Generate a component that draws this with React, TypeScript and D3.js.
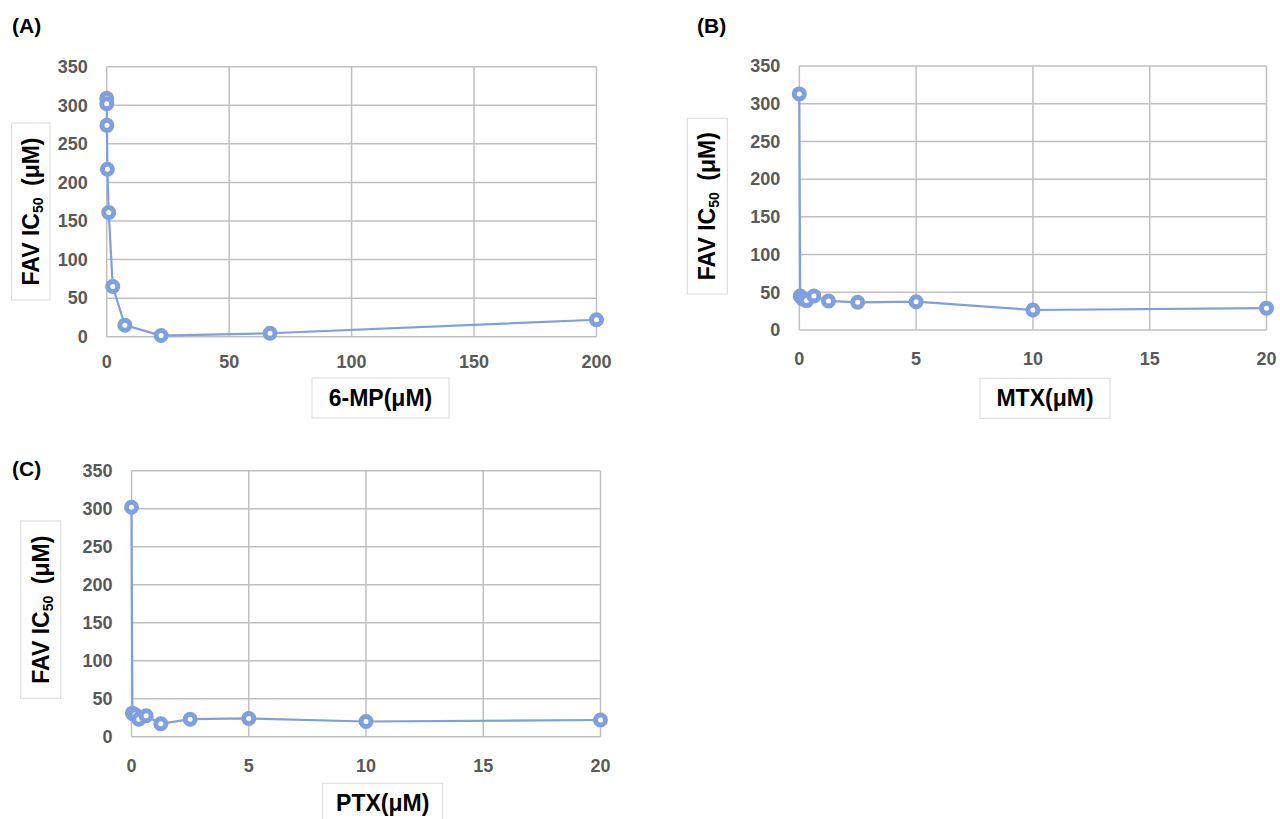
import React from "react";
import * as d3 from "d3";

// ---- Data ----
const mpDose = [0, 0.0305, 0.0914, 0.274, 0.823, 2.47, 7.41, 22.2, 66.7, 200];
const mpIC50 = [309, 302, 274, 217, 161, 65, 15, 1.5, 4.5, 22];

const mtxDose = [0, 0.039, 0.078, 0.156, 0.3125, 0.625, 1.25, 2.5, 5, 10, 20];
const mtxIC50 = [313, 45, 43, 41, 39, 45, 38.5, 36.7, 37.5, 26.5, 29];

const ptxDose = [0, 0.039, 0.078, 0.156, 0.3125, 0.625, 1.25, 2.5, 5, 10, 20];
const ptxIC50 = [302, 31, 30, 29, 23, 27.5, 17, 23, 24, 20, 22];

const yTicks = [0, 50, 100, 150, 200, 250, 300, 350];
const mpXTicks = [0, 50, 100, 150, 200];
const smallXTicks = [0, 5, 10, 15, 20];

const COLOR = "#7F9FDD";
const GRID = "#C0C0C0";
const TICKCOL = "#595959";
const FONT = "'Liberation Sans', Arial, sans-serif";

type PanelProps = {
  label: string;
  labelPos: [number, number];
  xs: number[];
  ys: number[];
  xDomain: [number, number];
  xTicks: number[];
  xRange: [number, number];
  yRange: [number, number];
  xLabelOffset: number;
  yTitleBox: [number, number, number, number];
  xTitleBox: [number, number, number, number];
  xTitle: string;
};

function Panel(p: PanelProps) {
  const x = d3.scaleLinear().domain(p.xDomain).range(p.xRange);
  const y = d3.scaleLinear().domain([0, 350]).range(p.yRange);
  const line = d3
    .line<number>()
    .x((_, i) => x(p.xs[i]))
    .y((d) => y(d));
  const [x0, x1] = p.xRange;
  const [y0, y1] = p.yRange;
  const [bx, by, bw, bh] = p.yTitleBox;
  const [tx, ty, tw, th] = p.xTitleBox;
  return (
    <g>
      <text
        x={p.labelPos[0]}
        y={p.labelPos[1]}
        fontFamily={FONT}
        fontSize={21}
        fontWeight="bold"
        fill="#000"
      >
        {p.label}
      </text>
      {yTicks.map((t) => (
        <line key={"h" + t} x1={x0} x2={x1} y1={y(t)} y2={y(t)} stroke={GRID} strokeWidth={1.5} />
      ))}
      {p.xTicks.map((t) => (
        <line key={"v" + t} x1={x(t)} x2={x(t)} y1={y0} y2={y1} stroke={GRID} strokeWidth={1.5} />
      ))}
      {yTicks.map((t) => (
        <text
          key={"yl" + t}
          x={x0 - 19}
          y={y(t)}
          dy="0.35em"
          textAnchor="end"
          fontFamily={FONT}
          fontSize={18}
          fontWeight="bold"
          fill={TICKCOL}
        >
          {t}
        </text>
      ))}
      {p.xTicks.map((t) => (
        <text
          key={"xl" + t}
          x={x(t)}
          y={y0 + p.xLabelOffset}
          dy="0.35em"
          textAnchor="middle"
          fontFamily={FONT}
          fontSize={18}
          fontWeight="bold"
          fill={TICKCOL}
        >
          {t}
        </text>
      ))}
      <path d={line(p.ys) || ""} fill="none" stroke={COLOR} strokeWidth={2.2} />
      {p.ys.map((v, i) => (
        <circle
          key={"c" + i}
          cx={x(p.xs[i])}
          cy={y(v)}
          r={5}
          fill="#fff"
          stroke={COLOR}
          strokeWidth={5}
        />
      ))}
      <rect x={bx} y={by} width={bw} height={bh} fill="#fff" stroke="#D9D9D9" strokeWidth={1} />
      <text
        transform={`translate(${bx + bw / 2 + 8},${by + bh / 2}) rotate(-90)`}
        textAnchor="middle"
        fontFamily={FONT}
        fontSize={23}
        fontWeight="bold"
        fill="#000"
      >
        FAV IC
        <tspan fontSize={14} dy={4}>50</tspan>
        <tspan dy={-4}>{"\u2002(μM)"}</tspan>
      </text>
      <rect x={tx} y={ty} width={tw} height={th} fill="#fff" stroke="#D9D9D9" strokeWidth={1} />
      <text
        x={tx + tw / 2}
        y={ty + th / 2 + 8}
        textAnchor="middle"
        fontFamily={FONT}
        fontSize={23}
        fontWeight="bold"
        fill="#000"
      >
        {p.xTitle}
      </text>
    </g>
  );
}

export default function App() {
  return (
    <svg
      width={1280}
      height={819}
      style={{ position: "absolute", left: 0, top: 0, background: "#fff" }}
    >
      <Panel
        label="(A)"
        labelPos={[12, 33]}
        xs={mpDose}
        ys={mpIC50}
        xDomain={[0, 200]}
        xTicks={mpXTicks}
        xRange={[106.7, 596.5]}
        yRange={[336.7, 66.7]}
        xLabelOffset={25}
        yTitleBox={[11.7, 123, 38.3, 177]}
        xTitleBox={[312, 378, 137, 40]}
        xTitle="6-MP(μM)"
      />
      <Panel
        label="(B)"
        labelPos={[697, 33]}
        xs={mtxDose}
        ys={mtxIC50}
        xDomain={[0, 20]}
        xTicks={smallXTicks}
        xRange={[799.3, 1266.5]}
        yRange={[330, 66]}
        xLabelOffset={28.5}
        yTitleBox={[687.3, 118.3, 40, 175.7]}
        xTitleBox={[980, 378.3, 130, 40]}
        xTitle="MTX(μM)"
      />
      <Panel
        label="(C)"
        labelPos={[12, 476]}
        xs={ptxDose}
        ys={ptxIC50}
        xDomain={[0, 20]}
        xTicks={smallXTicks}
        xRange={[131.5, 600.5]}
        yRange={[736.7, 470.7]}
        xLabelOffset={29}
        yTitleBox={[20.7, 521, 40, 177.3]}
        xTitleBox={[322.7, 783.3, 120, 40]}
        xTitle="PTX(μM)"
      />
    </svg>
  );
}
